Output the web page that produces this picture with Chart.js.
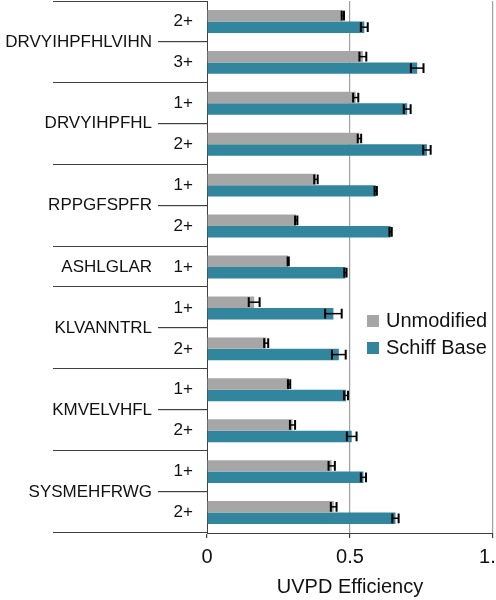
<!DOCTYPE html>
<html>
<head>
<meta charset="utf-8">
<script src="https://cdn.jsdelivr.net/npm/chart.js@4.4.1/dist/chart.umd.min.js"></script>
<style>
  html, body { margin: 0; padding: 0; background: #fff; }
  #wrap { width: 496px; height: 600px; }
</style>
</head>
<body>
<div id="wrap"><canvas id="c" width="496" height="600"></canvas></div>
<script>
// ---- data ----
const peptides = ['DRVYIHPFHLVIHN','DRVYIHPFHLVIHN','DRVYIHPFHL','DRVYIHPFHL','RPPGFSPFR','RPPGFSPFR','ASHLGLAR','KLVANNTRL','KLVANNTRL','KMVELVHFL','KMVELVHFL','SYSMEHFRWG','SYSMEHFRWG'];
const charges = ['2+','3+','1+','2+','1+','2+','1+','1+','2+','1+','2+','1+','2+'];
const seriesNames = ['Unmodified', 'Schiff Base'];
const unmodified = [0.475, 0.545, 0.520, 0.533, 0.381, 0.312, 0.284, 0.165, 0.207, 0.287, 0.299, 0.436, 0.443];
const unmodifiedErr = [0.004, 0.012, 0.009, 0.006, 0.006, 0.004, 0.002, 0.019, 0.007, 0.004, 0.009, 0.011, 0.010];
const schiffBase = [0.550, 0.735, 0.700, 0.769, 0.590, 0.642, 0.484, 0.442, 0.461, 0.486, 0.506, 0.547, 0.659];
const schiffBaseErr = [0.012, 0.022, 0.012, 0.013, 0.004, 0.004, 0.004, 0.029, 0.024, 0.007, 0.017, 0.009, 0.011];
const xTicks = [0, 0.5, 1];
const xTitle = 'UVPD Efficiency';

const FONT = '"Liberation Sans", Arial, sans-serif';
const GRAY = '#a6a6a6';
const TEAL = '#31859c';
const AXIS = '#404040';

// error bars
const errorBarPlugin = {
  id: 'errorBars',
  afterDatasetsDraw(chart) {
    const ctx = chart.ctx;
    const xs = chart.scales.x;
    const errs = [unmodifiedErr, schiffBaseErr];
    chart.data.datasets.forEach((ds, di) => {
      const meta = chart.getDatasetMeta(di);
      meta.data.forEach((el, i) => {
        const v = ds.data[i], e = errs[di][i];
        const x1 = xs.getPixelForValue(v - e), x2 = xs.getPixelForValue(v + e);
        const y = el.y, h = el.height * 0.85;
        ctx.save();
        ctx.strokeStyle = '#000';
        ctx.lineWidth = 1.5;
        ctx.beginPath();
        ctx.moveTo(x1, y); ctx.lineTo(x2, y);
        ctx.stroke();
        ctx.lineWidth = 2;
        ctx.beginPath();
        ctx.moveTo(x1, y - h / 2); ctx.lineTo(x1, y + h / 2);
        ctx.moveTo(x2, y - h / 2); ctx.lineTo(x2, y + h / 2);
        ctx.stroke();
        ctx.restore();
      });
    });
  }
};

// multi-level category labels + separators
const groupPlugin = {
  id: 'groups',
  afterDraw(chart) {
    const ctx = chart.ctx;
    const ys = chart.scales.y;
    const axisX = chart.chartArea.left;
    const n = peptides.length;
    const rowH = ys.getPixelForValue(1) - ys.getPixelForValue(0);
    const top = ys.getPixelForValue(0) - rowH / 2;
    const groups = [];
    let start = 0;
    for (let i = 1; i <= n; i++) {
      if (i === n || peptides[i] !== peptides[start]) {
        groups.push({ name: peptides[start], s: start, e: i });
        start = i;
      }
    }
    ctx.save();
    ctx.fillStyle = AXIS;
    // outer separators
    ctx.fillRect(53, Math.round(top), axisX - 53, 1);
    groups.forEach(g => {
      ctx.fillRect(53, Math.round(top + g.e * rowH) - 1, axisX - 53, 1);
      for (let k = g.s + 1; k < g.e; k++) {
        ctx.fillRect(158, Math.round(top + k * rowH) - 1, axisX - 158, 1.2);
      }
    });
    ctx.fillStyle = '#111';
    ctx.font = '17px ' + FONT;
    ctx.textAlign = 'right';
    ctx.textBaseline = 'middle';
    groups.forEach(g => {
      const yc = top + (g.s + g.e) / 2 * rowH;
      ctx.fillText(g.name, 152, yc);
    });
    ctx.restore();
  }
};

// legend inside plot
const legendPlugin = {
  id: 'insideLegend',
  afterDraw(chart) {
    const ctx = chart.ctx;
    ctx.save();
    ctx.font = '20px ' + FONT;
    ctx.textAlign = 'left';
    ctx.textBaseline = 'middle';
    chart.data.datasets.forEach((ds, i) => {
      const yc = 321 + i * 27;
      ctx.fillStyle = ds.backgroundColor;
      ctx.fillRect(367, yc - 6, 12, 12);
      ctx.fillStyle = '#111';
      ctx.fillText(ds.label, 386, yc);
    });
    ctx.restore();
  }
};

new Chart(document.getElementById('c'), {
  type: 'bar',
  data: {
    labels: charges,
    datasets: [
      { label: seriesNames[0], data: unmodified, backgroundColor: GRAY, borderWidth: 0 },
      { label: seriesNames[1], data: schiffBase, backgroundColor: TEAL, borderWidth: 0 }
    ]
  },
  options: {
    indexAxis: 'y',
    responsive: false,
    animation: false,
    devicePixelRatio: 1,
    layout: { padding: { top: 1, right: 3, left: 0, bottom: 0 } },
    datasets: { bar: { categoryPercentage: 0.56, barPercentage: 1.0 } },
    plugins: { legend: { display: false }, tooltip: { enabled: false } },
    scales: {
      x: {
        min: 0, max: 1,
        afterBuildTicks(s) { s.ticks = xTicks.map(v => ({ value: v })); },
        ticks: { color: '#111', font: { family: FONT, size: 20 }, padding: 7, maxRotation: 0 },
        grid: {
          color: c => (c.tick && c.tick.value === 0) ? 'rgba(0,0,0,0)' : '#a0a0a0',
          lineWidth: 1.2,
          tickColor: AXIS,
          tickLength: 5,
          drawTicks: true
        },
        border: { display: true, color: AXIS, width: 1 },
        title: { display: true, text: xTitle, color: '#111', font: { family: FONT, size: 20 }, padding: { top: 0, bottom: 1 } },
        afterFit(s) { s.height = 67; s.paddingRight = 0; s.paddingLeft = 0; }
      },
      y: {
        ticks: { color: '#111', font: { family: FONT, size: 17 }, padding: 14 },
        grid: { display: false, drawTicks: false },
        border: { display: true, color: AXIS, width: 1 },
        afterFit(s) { s.width = 207; s.paddingTop = 0; s.paddingBottom = 0; }
      }
    }
  },
  plugins: [errorBarPlugin, groupPlugin, legendPlugin]
});
</script>
</body>
</html>
